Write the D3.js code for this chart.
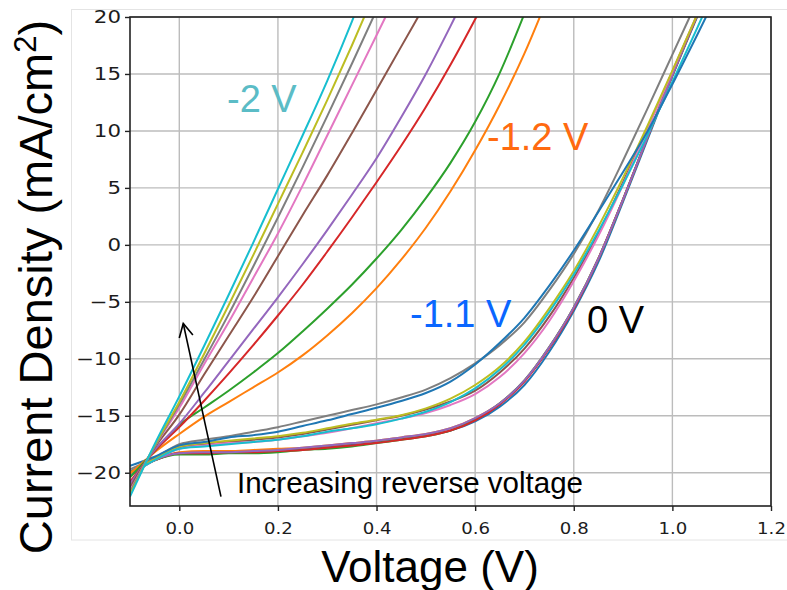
<!DOCTYPE html>
<html>
<head>
<meta charset="utf-8">
<script src="https://cdn.jsdelivr.net/npm/d3@7"></script>
<style>
  html, body { margin: 0; padding: 0; background: #ffffff; }
  svg { display: block; }
</style>
</head>
<body>
<svg id="chart" width="787" height="590"></svg>
<script>
// Applied voltage grid (V) shared by every J–V sweep
const voltage = [-0.10, -0.05, 0.00, 0.05, 0.10, 0.15, 0.20, 0.25, 0.30, 0.35, 0.40, 0.45,
                 0.50, 0.55, 0.60, 0.65, 0.70, 0.75, 0.80, 0.85, 0.90, 0.95, 1.00, 1.05, 1.10];

// Current density (mA/cm²) for each sweep, in measurement order (0 V first, -2 V last)
const j0  = [-19.9, -18.9, -18.3, -18.2, -18.2, -18.1, -18.0, -17.9, -17.7, -17.5, -17.3, -17.0, -16.7, -16.3, -15.5, -14.2, -12.3, -9.4, -5.8, -1.5, 3.8, 9.3, 14.8, 20.0, 24.9];
const j1  = [-20.0, -18.9, -18.2, -18.1, -18.1, -18.0, -17.9, -17.8, -17.6, -17.4, -17.2, -16.9, -16.6, -16.1, -15.2, -13.9, -11.9, -9.0, -5.5, -1.2, 4.0, 9.5, 14.9, 20.1, 25.0];
const j2  = [-20.1, -18.9, -18.4, -18.4, -18.3, -18.3, -18.2, -18.0, -17.9, -17.7, -17.4, -17.1, -16.8, -16.3, -15.3, -13.9, -11.9, -9.0, -5.5, -1.2, 4.0, 9.5, 14.9, 20.1, 25.0];
const j3  = [-20.0, -18.9, -18.3, -18.3, -18.2, -18.2, -18.1, -18.0, -17.8, -17.6, -17.4, -17.1, -16.8, -16.3, -15.4, -14.0, -12.0, -9.1, -5.6, -1.2, 4.0, 9.5, 14.9, 20.1, 25.0];
const j4  = [-20.3, -18.9, -18.3, -18.2, -18.2, -18.1, -18.0, -17.8, -17.6, -17.4, -17.2, -16.9, -16.6, -16.1, -15.2, -13.9, -11.9, -9.0, -5.5, -1.2, 4.0, 9.5, 14.9, 20.1, 25.0];
const j5  = [-20.1, -18.9, -17.8, -17.5, -17.3, -17.1, -16.9, -16.6, -16.2, -15.8, -15.4, -15.0, -14.45, -13.75, -12.8, -11.2, -9.1, -6.3, -2.9, 1.0, 5.5, 10.3, 15.2, 20.1, 25.0];
const j6  = [-20.2, -18.9, -17.9, -17.6, -17.4, -17.3, -17.1, -16.8, -16.5, -16.1, -15.65, -15.25, -14.75, -14.05, -13.1, -11.6, -9.5, -6.7, -3.2, 0.8, 5.3, 10.2, 15.2, 20.2, 25.2];
const j7  = [-19.7, -18.7, -17.5, -17.1, -16.8, -16.4, -16.0, -15.5, -15.0, -14.5, -14.0, -13.4, -12.7, -11.7, -10.4, -8.8, -6.8, -4.0, -0.8, 3.0, 7.4, 12.0, 16.7, 21.4, 26.1];
const j8  = [-20.0, -18.8, -17.7, -17.4, -17.2, -17.0, -16.8, -16.5, -16.1, -15.7, -15.35, -14.95, -14.35, -13.5, -12.3, -10.7, -8.5, -5.6, -2.3, 1.6, 5.9, 10.5, 15.3, 20.2, 25.1];
const j9  = [-20.2, -18.9, -17.9, -17.7, -17.5, -17.3, -17.1, -16.8, -16.4, -16.1, -15.75, -15.25, -14.65, -13.8, -12.6, -10.95, -8.75, -5.9, -2.6, 1.2, 5.3, 9.7, 14.3, 19.0, 23.8];
const j10 = [-19.4, -18.6, -17.6, -17.3, -16.9, -16.7, -16.4, -15.9, -15.4, -14.85, -14.3, -13.7, -13.0, -12.0, -10.5, -8.6, -6.4, -3.6, -0.5, 2.9, 6.4, 10.0, 14.1, 18.4, 22.8];
const j11 = [-20.1, -18.2, -16.6, -15.1, -13.8, -12.5, -11.2, -9.7, -7.95, -6.0, -3.8, -1.3, 1.5, 4.7, 8.3, 12.3, 16.8, 22.0];
const j12 = [-20.4, -18.1, -15.8, -14.3, -12.8, -11.2, -9.5, -7.6, -5.6, -3.5, -1.2, 1.3, 4.1, 7.2, 10.8, 15.1, 20.3, 26.0];
const j13 = [-20.8, -18.1, -16.0, -13.7, -11.3, -8.8, -6.2, -3.5, -0.6, 2.4, 5.5, 8.7, 12.1, 15.8, 19.8, 24.0];
const j14 = [-21.0, -18.0, -15.7, -13.0, -10.2, -7.4, -4.6, -1.7, 1.3, 4.4, 7.6, 11.2, 15.0, 19.2, 23.6];
const j15 = [-21.3, -17.8, -14.9, -11.4, -8.0, -4.6, -1.0, 2.6, 6.1, 9.8, 13.6, 17.4, 21.2];
const j16 = [-21.6, -17.7, -14.3, -10.5, -6.8, -2.9, 1.0, 5.2, 9.6, 14.0, 18.4, 22.8];
const j17 = [-21.7, -17.7, -14.0, -10.1, -6.1, -1.9, 2.4, 6.8, 11.3, 15.9, 20.6];
const j18 = [-21.9, -17.6, -13.8, -9.6, -5.3, -0.9, 3.6, 8.1, 12.7, 17.5, 22.5];
const j19 = [-22.1, -17.5, -13.3, -8.9, -4.4, 0.2, 4.9, 9.6, 14.4, 19.6, 25.2];

const sweeps = [j0, j1, j2, j3, j4, j5, j6, j7, j8, j9, j10, j11, j12, j13, j14, j15, j16, j17, j18, j19];

// Axis ticks
const xTicks = [0.0, 0.2, 0.4, 0.6, 0.8, 1.0, 1.2];
const yTicks = [-20, -15, -10, -5, 0, 5, 10, 15, 20];

// Bias labels placed beside their curves
const biasLabels = ["-2 V", "-1.2 V", "-1.1 V", "0 V"];
const noteText = "Increasing reverse voltage";

// ---------------------------------------------------------------
const svg = d3.select("#chart");
const W = 787, H = 590;
const plot = { left: 130, right: 771, top: 17, bottom: 506 };

svg.append("rect").attr("width", W).attr("height", H).attr("fill", "#ffffff");

// light frame of the figure panel
svg.append("rect")
  .attr("x", 71.5).attr("y", 9.5)
  .attr("width", 760).attr("height", 530.5)
  .attr("fill", "none").attr("stroke", "#e4e4e4").attr("stroke-width", 1);

const x = d3.scaleLinear().domain([-0.1, 1.2]).range([plot.left, plot.right]);
const y = d3.scaleLinear().domain([-22.92, 20]).range([plot.bottom, plot.top]);

const color = d3.scaleOrdinal().domain(d3.range(10)).range(d3.schemeCategory10);

// grid
const grid = svg.append("g").attr("stroke", "#bcbcbc").attr("stroke-width", 1.4);
grid.selectAll("line.gx").data(xTicks).join("line")
  .attr("x1", d => x(d)).attr("x2", d => x(d))
  .attr("y1", plot.top).attr("y2", plot.bottom);
grid.selectAll("line.gy").data(yTicks).join("line")
  .attr("x1", plot.left).attr("x2", plot.right)
  .attr("y1", d => y(d)).attr("y2", d => y(d));

// curves
svg.append("clipPath").attr("id", "plotClip")
  .append("rect")
  .attr("x", plot.left).attr("y", plot.top)
  .attr("width", plot.right - plot.left).attr("height", plot.bottom - plot.top);

const line = d3.line()
  .x((d, i) => x(voltage[i]))
  .y(d => y(d))
  .curve(d3.curveMonotoneX);

svg.append("g").attr("clip-path", "url(#plotClip)")
  .selectAll("path").data(sweeps).join("path")
  .attr("d", d => line(d))
  .attr("fill", "none")
  .attr("stroke", (d, i) => color(i % 10))
  .attr("stroke-width", 2)
  .attr("stroke-linejoin", "round");

// axes (tick labels are slightly wide, as in the exported figure)
const tickFont = "'DejaVu Sans', sans-serif";
const xStretch = 1.17, yStretch = 1.22;
const xAxis = svg.append("g")
  .attr("transform", `translate(0,${plot.bottom})`)
  .call(d3.axisBottom(x).tickValues(xTicks).tickFormat(d3.format(".1f")).tickSize(5).tickPadding(12));
const yAxis = svg.append("g")
  .attr("transform", `translate(${plot.left},0)`)
  .call(d3.axisLeft(y).tickValues(yTicks).tickFormat(d3.format("d")).tickSize(5));
[xAxis, yAxis].forEach(a => {
  a.select(".domain").remove();
  a.selectAll(".tick line").attr("stroke", "#222").attr("stroke-width", 1.4);
  a.selectAll(".tick text").attr("fill", "#1c1c1c")
    .style("font-family", tickFont);
});
xAxis.selectAll(".tick text").style("font-size", "15.5px")
  .attr("transform", `scale(${xStretch},1)`);
yAxis.selectAll(".tick text").style("font-size", "17.5px")
  .attr("transform", `scale(${yStretch},1)`)
  .attr("x", -9 / yStretch);

// spines
svg.append("rect")
  .attr("x", plot.left).attr("y", plot.top)
  .attr("width", plot.right - plot.left).attr("height", plot.bottom - plot.top)
  .attr("fill", "none").attr("stroke", "#222").attr("stroke-width", 1.6);

// axis titles
const titleFont = "'Liberation Sans', Arial, sans-serif";
svg.append("text")
  .attr("x", 430).attr("y", 582)
  .attr("text-anchor", "middle")
  .style("font-family", titleFont).style("font-size", "44px").attr("fill", "#000")
  .text("Voltage (V)");

const yTitle = svg.append("text")
  .attr("transform", "translate(52,287) rotate(-90)")
  .attr("text-anchor", "middle")
  .style("font-family", titleFont).style("font-size", "47px").attr("fill", "#000");
yTitle.append("tspan").text("Current Density (mA/cm");
yTitle.append("tspan").attr("dy", -16).style("font-size", "31px").text("2");
yTitle.append("tspan").attr("dy", 16).text(")");

// bias labels
const labelFont = titleFont;
const labelSpecs = [
  { text: biasLabels[0], x: 227, y: 112, fill: "#5bbcc6" },
  { text: biasLabels[1], x: 487, y: 150, fill: "#ff6a10" },
  { text: biasLabels[2], x: 410, y: 327, fill: "#0a66ff" },
  { text: biasLabels[3], x: 587, y: 333, fill: "#000000" }
];
svg.selectAll("text.bias").data(labelSpecs).join("text")
  .attr("class", "bias")
  .attr("x", d => d.x).attr("y", d => d.y)
  .style("font-family", labelFont).style("font-size", "38px")
  .attr("fill", d => d.fill)
  .text(d => d.text);

// trend arrow and note
const tail = [x(0.0845), y(-22.1)];
const tip = [x(0.008), y(-6.9)];
const arrow = svg.append("g").attr("stroke", "#000").attr("stroke-width", 1.6).attr("fill", "none");
arrow.append("line")
  .attr("x1", tail[0]).attr("y1", tail[1]).attr("x2", tip[0]).attr("y2", tip[1]);
const ang = Math.atan2(tail[1] - tip[1], tail[0] - tip[0]);
const wing = 15, spread = Math.PI / 6.5;
arrow.append("path")
  .attr("d", `M${tip[0] + wing * Math.cos(ang + spread)},${tip[1] + wing * Math.sin(ang + spread)}` +
             `L${tip[0]},${tip[1]}` +
             `L${tip[0] + wing * Math.cos(ang - spread)},${tip[1] + wing * Math.sin(ang - spread)}`);

svg.append("text")
  .attr("x", 237).attr("y", 493)
  .style("font-family", labelFont).style("font-size", "29.5px").attr("fill", "#000")
  .text(noteText);
</script>
</body>
</html>
